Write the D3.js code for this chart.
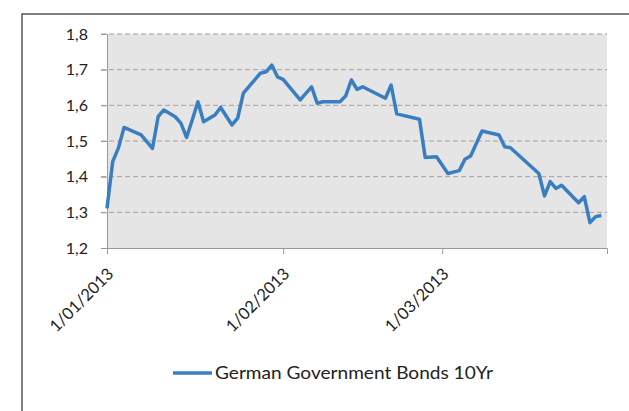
<!DOCTYPE html>
<html><head><meta charset="utf-8">
<script src="https://cdn.jsdelivr.net/npm/d3@7"></script>
<style>body{margin:0;background:#fff}svg{display:block}</style>
</head><body>
<svg id="c" width="629" height="411"></svg>
<script>
const dates = ["2013-01-01","2013-01-02","2013-01-03","2013-01-04","2013-01-07","2013-01-09","2013-01-10","2013-01-11","2013-01-13","2013-01-14","2013-01-15","2013-01-16","2013-01-17","2013-01-18","2013-01-20","2013-01-21","2013-01-23","2013-01-24","2013-01-25","2013-01-28","2013-01-29","2013-01-30","2013-01-31","2013-02-01","2013-02-04","2013-02-06","2013-02-07","2013-02-08","2013-02-11","2013-02-12","2013-02-13","2013-02-14","2013-02-15","2013-02-19","2013-02-20","2013-02-21","2013-02-25","2013-02-26","2013-02-28","2013-03-02","2013-03-04","2013-03-05","2013-03-06","2013-03-08","2013-03-11","2013-03-12","2013-03-13","2013-03-18","2013-03-19","2013-03-20","2013-03-21","2013-03-22","2013-03-25","2013-03-26","2013-03-27","2013-03-28","2013-03-29"];
const yields = [1.311,1.442,1.48,1.538,1.517,1.479,1.568,1.587,1.568,1.55,1.51,1.559,1.61,1.554,1.573,1.594,1.545,1.564,1.634,1.69,1.694,1.713,1.68,1.673,1.615,1.652,1.606,1.61,1.61,1.626,1.671,1.645,1.652,1.62,1.657,1.576,1.561,1.454,1.456,1.409,1.417,1.449,1.458,1.528,1.517,1.484,1.481,1.409,1.346,1.386,1.367,1.376,1.327,1.344,1.271,1.288,1.291];
const yTicks = [1.2,1.3,1.4,1.5,1.6,1.7,1.8];
const xTicks = ["2013-01-01","2013-02-01","2013-03-01"];
const xTickLabels = ["1/01/2013","1/02/2013","1/03/2013"];
const seriesName = "German Government Bonds 10Yr";

const parse = d3.timeParse("%Y-%m-%d");
const data = dates.map((d,i)=>({date:parse(d), v:yields[i]}));
const svg = d3.select("#c");
const L=107, R=607, T=34, B=248;
const x = d3.scaleTime().domain([parse("2013-01-01"), parse("2013-03-30")]).range([L,R]);
const y = d3.scaleLinear().domain([1.2,1.8]).range([B,T]);

// outer border
svg.append("rect").attr("x",22).attr("y",14).attr("width",640).attr("height",420)
  .attr("fill","none").attr("stroke","#555").attr("stroke-width",1.5);

// plot background
svg.append("rect").attr("x",L).attr("y",T).attr("width",R-L).attr("height",B-T).attr("fill","#e5e5e5");

// gridlines
svg.append("g").selectAll("line").data(yTicks.filter(t=>t>1.2)).join("line")
  .attr("x1",L-6).attr("x2",R).attr("y1",d=>y(d)).attr("y2",d=>y(d))
  .attr("stroke","#aaa097").attr("stroke-width",1).attr("stroke-dasharray","5,3");

// y axis
const ya = svg.append("g").attr("transform",`translate(${L},0)`)
  .call(d3.axisLeft(y).tickValues(yTicks).tickSize(6).tickPadding(13).tickFormat(d=>d3.format(".1f")(d).replace(".",",")));
ya.select(".domain").attr("stroke","#9a9a9a");
ya.selectAll(".tick line").attr("stroke","#9a9a9a");
ya.selectAll("text").attr("font-family","Lato, 'Open Sans', sans-serif").attr("font-size",16).attr("fill","#222");

// x axis
const xa = svg.append("g").attr("transform",`translate(0,${B})`)
  .call(d3.axisBottom(x).tickValues(xTicks.map(parse)).tickSize(6).tickFormat((d,i)=>xTickLabels[i]));
xa.select(".domain").attr("stroke","#9a9a9a");
xa.selectAll(".tick line").attr("stroke","#9a9a9a");
xa.selectAll("text").attr("font-family","Lato, 'Open Sans', sans-serif").attr("font-size",16.5).attr("fill","#222")
  .attr("text-anchor","end").attr("dy",null).attr("y",null)
  .attr("transform","translate(7,27) rotate(-45)");

// line
svg.append("path").datum(data)
  .attr("fill","none").attr("stroke","#3a7ec2").attr("stroke-width",3.5).attr("stroke-linejoin","round")
  .attr("d", d3.line().x(d=>x(d.date)).y(d=>y(d.v)));

// legend
const lg = svg.append("g");
lg.append("line").attr("x1",173).attr("x2",212).attr("y1",373).attr("y2",373)
  .attr("stroke","#3a7ec2").attr("stroke-width",3.5);
lg.append("text").attr("x",215).attr("y",379).text(seriesName)
  .attr("font-family","Lato, 'Open Sans', sans-serif").attr("font-size",16.5).attr("fill","#222")
  .attr("textLength",278).attr("lengthAdjust","spacingAndGlyphs");
</script>
</body></html>
